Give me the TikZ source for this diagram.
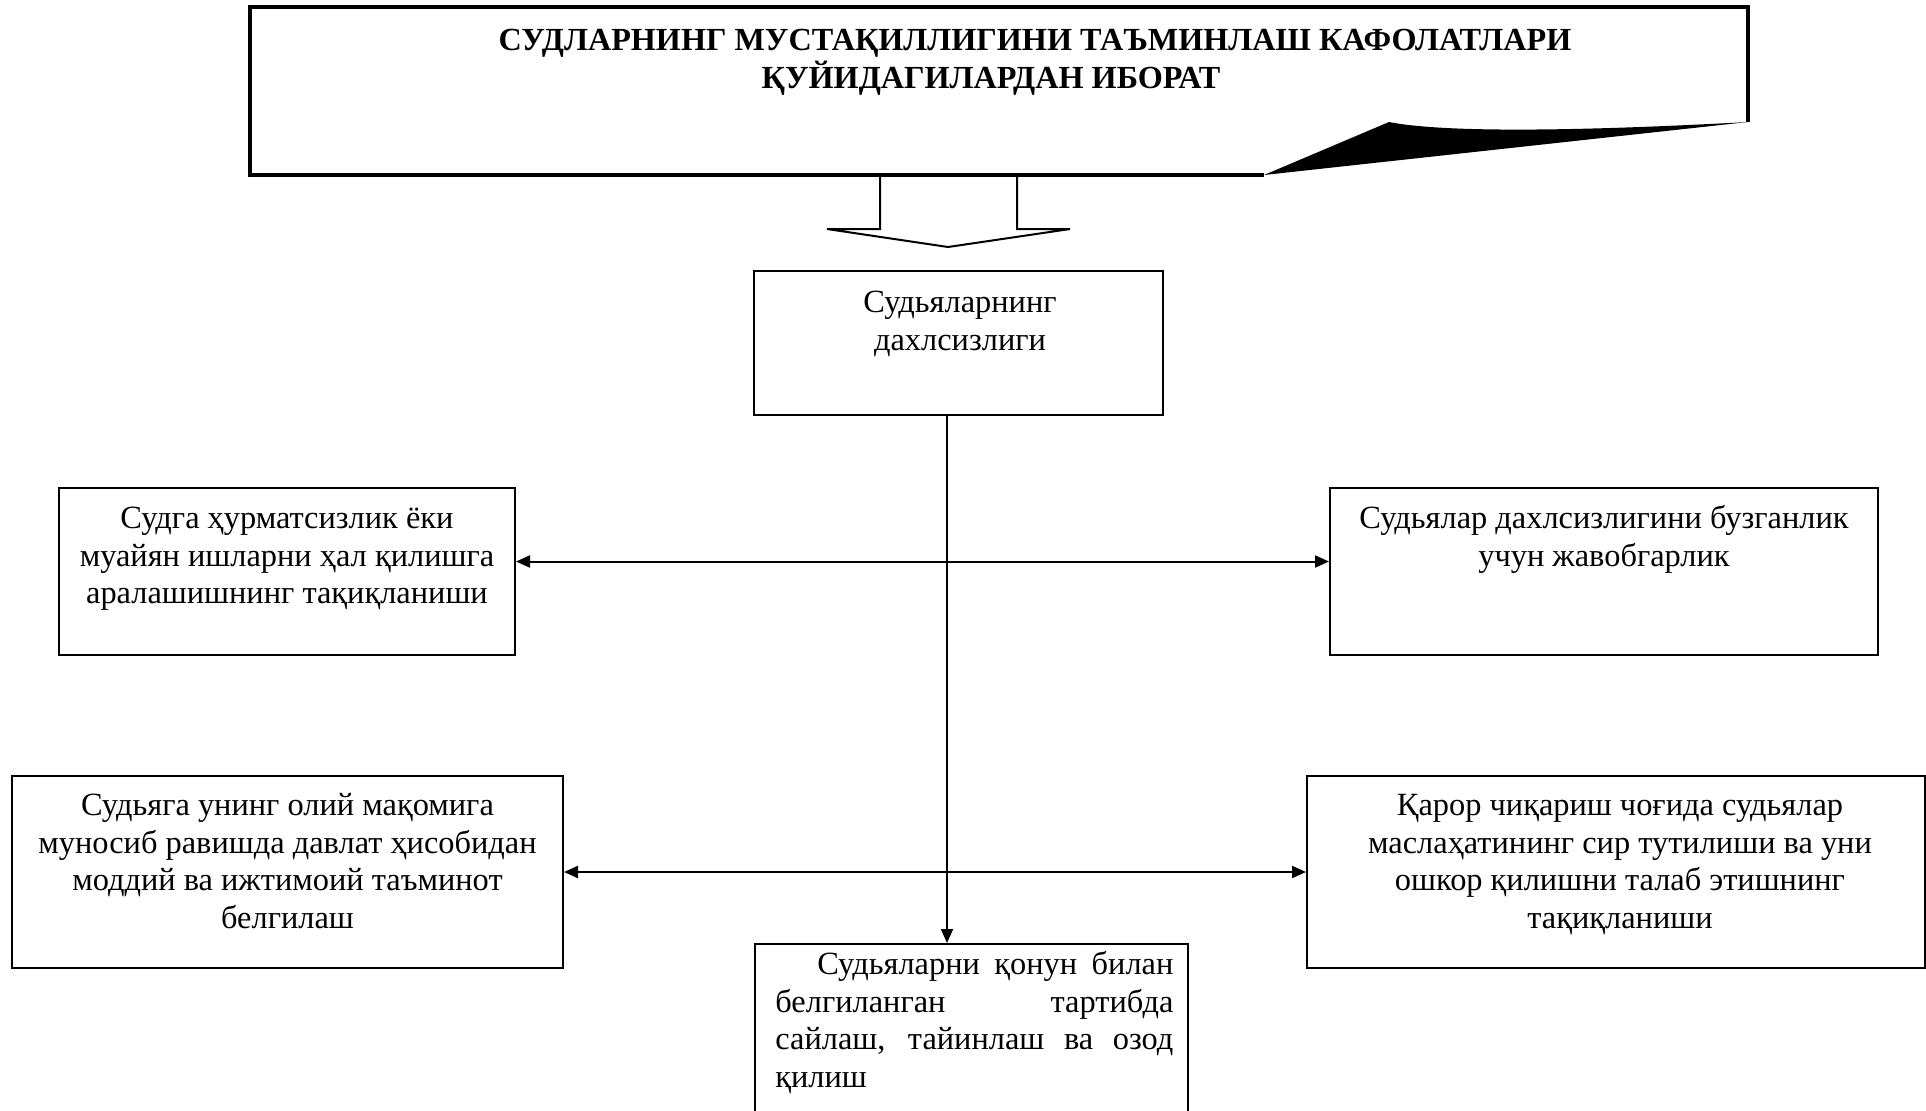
\documentclass[tikz,border=0pt]{standalone}
\usepackage{fontspec}
\setmainfont{Liberation Serif}
\usetikzlibrary{arrows.meta}
\begin{document}
\begin{tikzpicture}[x=0.5pt,y=-0.5pt,
  box/.style={draw, line width=1pt, inner sep=0pt},
  txt/.style={inner sep=0pt, anchor=north, align=center, font=\fontsize{16.2pt}{18.75pt}\selectfont},
  ttl/.style={inner sep=0pt, anchor=base, font=\fontsize{16.1pt}{19pt}\selectfont\bfseries},
  link/.style={line width=1pt, {Triangle[length=7pt,width=6pt]}-{Triangle[length=7pt,width=6pt]}},
  down/.style={line width=1pt, -{Triangle[length=7pt,width=6pt]}}]
\useasboundingbox (0,0) rectangle (1926,1110);
\clip (0,0) rectangle (1926,1110);
% banner
\coordinate (bl) at (1264,175);
\coordinate (pk) at (1389,122);
\coordinate (rc) at (1748,122);
\fill (bl) -- (pk) .. controls (1450,134) and (1600,130) .. (rc) -- cycle;
\draw[line width=1.6pt, line join=miter] (bl) -- (250,175) -- (250,7) -- (1748,7) -- (rc);
\node[ttl] (t1) at (1035,50) {СУДЛАРНИНГ МУСТАҚИЛЛИГИНИ ТАЪМИНЛАШ КАФОЛАТЛАРИ};
\node[ttl] (t2) at (991,88) {ҚУЙИДАГИЛАРДАН ИБОРАТ};
% block arrow
\draw[line width=1pt, line join=miter] (880,176) -- (880,229) -- (827,229) -- (948,247) -- (1070,229) -- (1017,229) -- (1017,176);
% boxes
\node[box, minimum width=204.5pt, minimum height=72pt] (A) at (958.5,343) {};
\node[txt] at (960,286) {\strut Судьяларнинг\\дахлсизлиги};
\node[box, minimum width=228pt, minimum height=83.5pt] (L1) at (287,571.5) {};
\node[txt] at (287,502) {\strut Судга ҳурматсизлик ёки\\муайян ишларни ҳал қилишга\\аралашишнинг тақиқланиши};
\node[box, minimum width=274pt, minimum height=83.5pt] (R1) at (1604,571.5) {};
\node[txt] at (1604,502) {\strut Судьялар дахлсизлигини бузганлик\\учун жавобгарлик};
\node[box, minimum width=275.5pt, minimum height=96pt] (L2) at (287.5,872) {};
\node[txt] at (287.5,789) {\strut Судьяга унинг олий мақомига\\муносиб равишда давлат ҳисобидан\\моддий ва ижтимоий таъминот\\белгилаш};
\node[box, minimum width=309pt, minimum height=96pt] (R2) at (1616,872) {};
\node[txt] at (1620,789) {\strut Қарор чиқариш чоғида судьялар\\маслаҳатининг сир тутилиши ва уни\\ошкор қилишни талаб этишнинг\\тақиқланиши};
\node[box, minimum width=216.5pt, minimum height=93pt] (B) at (971.5,1037) {};
\node[txt, anchor=north west, align=justify, text width=199pt] at (775,948) {\strut\hspace*{21pt}Судьяларни қонун билан\linebreak белгиланган тартибда\linebreak сайлаш, тайинлаш ва озод\linebreak қилиш};
% connectors
\draw[down] ([xshift=-5.75pt]A.south) -- ([xshift=-5.75pt]A.south |- B.north);
\draw[link] ([yshift=5pt]L1.east) -- ([yshift=5pt]R1.west);
\draw[link] (L2.east) -- (R2.west);
\end{tikzpicture}
\end{document}
